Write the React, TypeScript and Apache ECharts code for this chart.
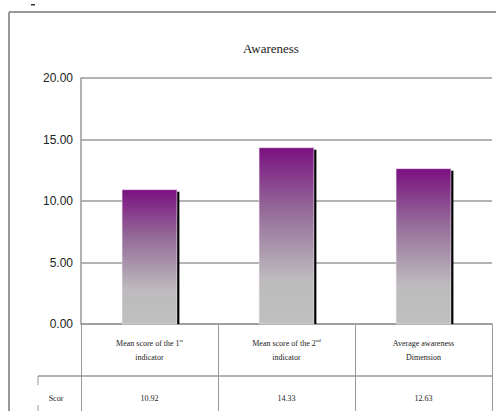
import React, { useEffect, useRef } from "react";
import * as echarts from "echarts";

const categories = [
  "Mean score of the 1{sup|st}\nindicator",
  "Mean score of the 2{sup|nd}\nindicator",
  "Average awareness\nDimension",
];
const scores = [10.92, 14.33, 12.63];
const scoreLabels = ["10.92", "14.33", "12.63"];
const rowLabel = "Scor";
const title = "Awareness";

function wrapRich(label: string): string {
  return label
    .split("\n")
    .map((line) =>
      line
        .split(/(\{sup\|[^}]*\})/)
        .filter((p) => p.length > 0)
        .map((p) => (p.startsWith("{sup|") ? p : `{n|${p}}`))
        .join("")
    )
    .join("\n");
}

export default function App() {
  const ref = useRef<HTMLDivElement>(null);
  useEffect(() => {
    if (!ref.current) return;
    const chart = echarts.init(ref.current, null, { renderer: "svg" });
    const gridColor = "#9a9a9a";
    const serif = "Liberation Serif";
    chart.setOption({
      animation: false,
      backgroundColor: "#ffffff",
      title: {
        text: title,
        left: 266,
        top: 37,
        textAlign: "center",
        textStyle: { fontFamily: serif, fontWeight: "normal", fontSize: 13, color: "#222" },
      },
      grid: { left: 81, right: 4, top: 78, bottom: 87 },
      xAxis: [
        {
          type: "category",
          data: categories,
          position: "bottom",
          axisLine: { show: true, lineStyle: { color: gridColor, width: 1.5 } },
          axisTick: { show: true, length: 52, inside: false, interval: 0, lineStyle: { color: gridColor, width: 1 } },
          axisLabel: {
            interval: 0,
            margin: 12,
            lineHeight: 14,
            fontFamily: serif,
            fontSize: 8,
            color: "#222",
            formatter: (v: string) => wrapRich(v),
            rich: {
              n: { fontSize: 8, fontFamily: serif, color: "#222", lineHeight: 14 },
              sup: { fontSize: 5, fontFamily: serif, color: "#222", padding: [0, 0, 5, 0] },
            },
          },
        },
        {
          type: "category",
          data: scoreLabels,
          position: "bottom",
          offset: 52,
          axisLine: { show: true, lineStyle: { color: gridColor, width: 1.5 } },
          axisTick: { show: true, length: 40, inside: false, interval: 0, lineStyle: { color: gridColor, width: 1 } },
          axisLabel: { interval: 0, margin: 18, fontFamily: serif, fontSize: 8, color: "#222" },
        },
      ],
      yAxis: {
        type: "value",
        min: 0,
        max: 20,
        interval: 5,
        axisLine: { show: true, lineStyle: { color: gridColor, width: 1.5 } },
        axisTick: { show: false },
        splitLine: { show: true, lineStyle: { color: gridColor, width: 1.5 } },
        axisLabel: {
          margin: 8,
          fontFamily: "Liberation Sans",
          fontSize: 12,
          color: "#222",
          formatter: (v: number) => v.toFixed(2),
        },
      },
      graphic: [
        { type: "line", shape: { x1: 9, y1: 12, x2: 496, y2: 12 }, style: { stroke: "#999", lineWidth: 2 } },
        { type: "line", shape: { x1: 9, y1: 12, x2: 9, y2: 411 }, style: { stroke: "#999", lineWidth: 2 } },
        { type: "rect", shape: { x: 31, y: 4, width: 4, height: 1.5 }, style: { fill: "#333" } },
        { type: "line", shape: { x1: 38, y1: 376, x2: 81, y2: 376 }, style: { stroke: "#9a9a9a", lineWidth: 1.5 } },
        { type: "line", shape: { x1: 38, y1: 376, x2: 38, y2: 385 }, style: { stroke: "#9a9a9a", lineWidth: 1 } },
        { type: "line", shape: { x1: 38, y1: 405, x2: 38, y2: 411 }, style: { stroke: "#9a9a9a", lineWidth: 1 } },
        {
          type: "text",
          x: 56,
          y: 398,
          style: { text: rowLabel, fontFamily: serif, fontSize: 8, fill: "#222", textAlign: "center", textVerticalAlign: "middle" },
        },
      ],
      series: [
        {
          type: "custom",
          xAxisIndex: 0,
          yAxisIndex: 0,
          data: scores.map((v, i) => [i, v]),
          encode: { x: 0, y: 1 },
          renderItem: (params: any, api: any) => {
            const idx = api.value(0);
            const v = api.value(1);
            const top = api.coord([idx, v]);
            const base = api.coord([idx, 0]);
            const bw = api.size([1, 0])[0] * 0.4;
            const x = top[0] - bw / 2;
            const h = base[1] - top[1];
            return {
              type: "group",
              children: [
                {
                  type: "rect",
                  shape: { x: x + bw, y: top[1] + 2, width: 2.5, height: h - 2 },
                  style: { fill: "#000" },
                },
                {
                  type: "rect",
                  shape: { x, y: top[1], width: bw, height: h },
                  style: {
                    fill: new echarts.graphic.LinearGradient(0, 0, 0, 1, [
                      { offset: 0, color: "#7a1080" },
                      { offset: 0.35, color: "#946a98" },
                      { offset: 0.75, color: "#bdbbbd" },
                      { offset: 1, color: "#c0c0c0" },
                    ]),
                    stroke: "#f0e0f0",
                    lineWidth: 0.5,
                  },
                },
              ],
            };
          },
        },
      ],
    });
    return () => chart.dispose();
  }, []);
  return (
    <div
      ref={ref}
      style={{ position: "fixed", left: 0, top: 0, width: 496, height: 411, background: "#fff" }}
    />
  );
}
